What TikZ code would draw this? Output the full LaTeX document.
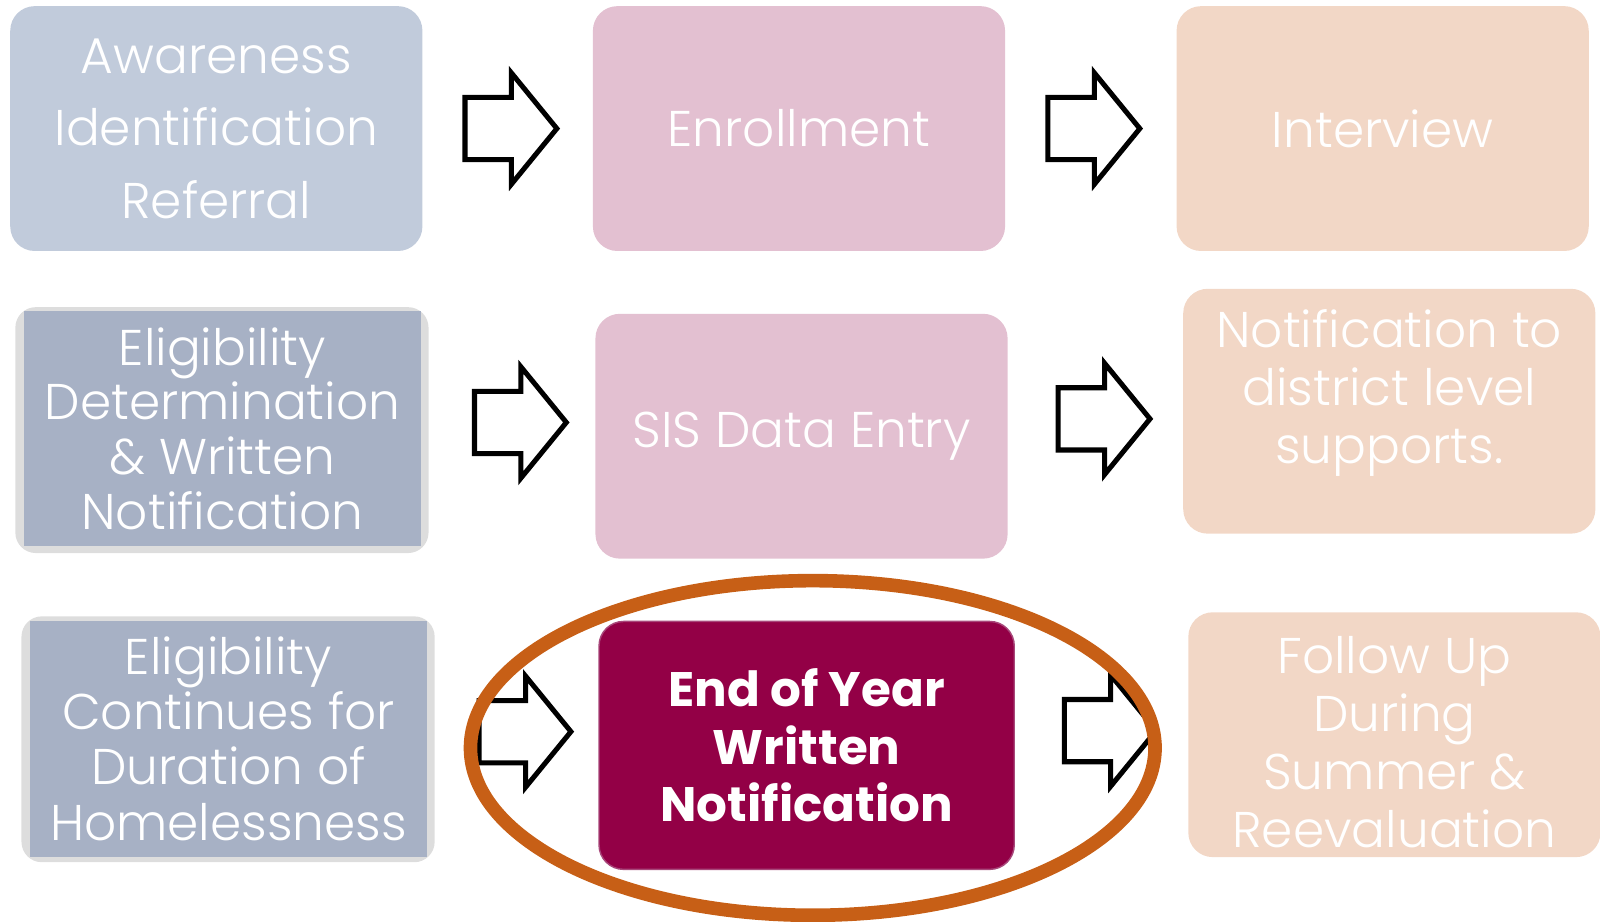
\documentclass[tikz,border=0pt]{standalone}
\usepackage{fontspec}
\setmainfont{Poppins Light}[BoldFont={Poppins Bold}]
\usepackage{tikz}
\definecolor{boxblue}{HTML}{C1CBDB}
\definecolor{boxpink}{HTML}{E3C0D1}
\definecolor{boxpeach}{HTML}{F2D7C6}
\definecolor{boxslate}{HTML}{A7B1C5}
\definecolor{framegrey}{HTML}{DDDDDD}
\definecolor{maroon}{HTML}{930046}
\definecolor{maroonedge}{HTML}{A8477A}
\definecolor{ring}{HTML}{C75F16}

\begin{document}
\begin{tikzpicture}[x=0.02cm, y=-0.02cm,
        box/.style={rounded corners=0.48cm, minimum width=8.08cm, minimum height=4.8cm,
                inner sep=0pt, text=white, align=center, font=\fontsize{28}{40.4}\selectfont},
        bluebox/.style={box, fill=boxblue},
        pinkbox/.style={box, fill=boxpink},
        peachbox/.style={box, fill=boxpeach},
        boxtext/.style={text=white, align=center, inner sep=0pt, font=\fontsize{28}{32.4}\selectfont},
        framebox/.style={fill=framegrey, rounded corners=0.4cm, minimum width=8.1cm,
                minimum height=4.82cm, inner sep=0pt},
        slatebox/.style={fill=boxslate, minimum width=7.78cm, minimum height=4.62cm, inner sep=0pt,
                text=white, align=center, font=\fontsize{28}{30.5}\selectfont},
        blockarrow/.style={draw=black, line width=2.8pt, fill=white, miter limit=10}]
        \useasboundingbox (0,0) rectangle (1568,903.5);
        \node[bluebox] (aware) at (212,126) {Awareness\\Identification\\Referral};
        \node[pinkbox] (enroll) at (783,126) {Enrollment};
        \node[peachbox] (interview) at (1355,126) {Interview};
        \node[framebox] (eligframe) at (217.5,421.5) {};
        \node[slatebox] (elig) at (218,420) {Eligibility\\Determination\\\& Written\\Notification};
        \node[pinkbox] (sis) at (785.5,427.5) {SIS Data Entry};
        \node[peachbox] (notify) at (1361.5,403) {};
        \node[boxtext] (notifytext) at (1361.5,385) {Notification to\\district level\\supports.};
        \node[framebox] (contframe) at (223.5,724.5) {};
        \node[slatebox, font=\fontsize{28}{30.7}\selectfont] (cont) at (224,724)
                {Eligibility\\Continues for\\Duration of\\Homelessness};
        \node[box, fill=maroon, draw=maroonedge, line width=0.8pt, minimum width=8.14cm,
                minimum height=4.86cm, font=\bfseries\fontsize{27}{32.2}\selectfont]
                (endyear) at (790.5,730.5) {End of Year\\Written\\Notification};
        \node[peachbox] (followup) at (1366.5,720) {};
        \node[boxtext] (followuptext) at (1366.5,727) {Follow Up\\During\\Summer \&\\Reevaluation};
        \foreach \x/\y in {455.7/126, 1027/126, 465/414, 1037/410.5, 469.5/717, 1043/716}
                \draw[blockarrow] (\x,\y) ++(0,-30.5) -- ++(45.5,0) -- ++(0,-24) -- ++(44.5,54.5)
                        -- ++(-44.5,54.5) -- ++(0,-24) -- ++(-45.5,0) -- cycle;
        \draw[ring, line width=7.6pt] (796.5,733) ellipse [x radius=6.71cm, y radius=3.28cm];
    \end{tikzpicture}
\end{document}
